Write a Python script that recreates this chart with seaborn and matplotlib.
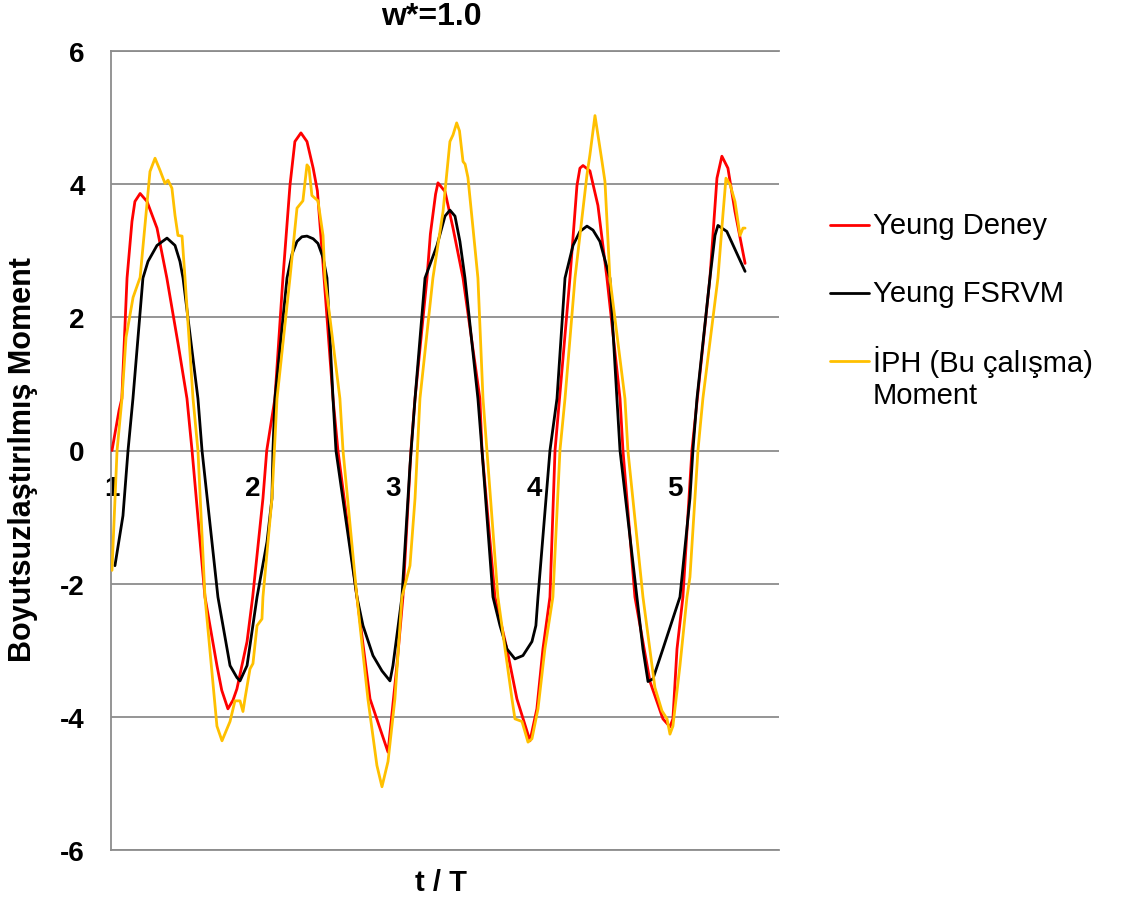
import matplotlib
matplotlib.use("Agg")
import matplotlib.pyplot as plt
from matplotlib.lines import Line2D
import seaborn as sns

# Dimensionless moment vs t/T for w* = 1.0
red_t = [1.0, 1.05, 1.07, 1.107, 1.142, 1.163, 1.20, 1.249, 1.32, 1.39, 1.47, 1.533,
         1.569, 1.661, 1.746, 1.78, 1.824, 1.86, 1.888, 1.96, 2.0, 2.073, 2.10, 2.158,
         2.215, 2.265, 2.30, 2.343, 2.386, 2.43, 2.46, 2.50, 2.571, 2.606, 2.741,
         2.834, 2.962, 3.025, 3.068, 3.125, 3.154, 3.239, 3.263, 3.30, 3.317, 3.367,
         3.424, 3.495, 3.615, 3.63, 3.722, 3.807, 3.878, 3.971, 4.02, 4.063, 4.113,
         4.149, 4.255, 4.305, 4.326, 4.348, 4.397, 4.454, 4.518, 4.611, 4.632, 4.717,
         4.824, 4.916, 4.966, 4.987, 5.016, 5.058, 5.122, 5.25, 5.30, 5.335, 5.378,
         5.428, 5.5]
red_m = [0.0, 0.6, 0.78, 2.59, 3.44, 3.74, 3.86, 3.74, 3.34, 2.59, 1.6, 0.78,
         0.0, -2.2, -3.23, -3.6, -3.88, -3.75, -3.58, -2.87, -2.2, -0.72, 0.0, 0.78,
         2.59, 3.98, 4.64, 4.77, 4.64, 4.24, 3.9, 2.8, 0.78, 0.0, -2.2,
         -3.73, -4.53, -3.23, -2.2, 0.0, 0.78, 2.59, 3.25, 3.85, 4.02, 3.89,
         3.34, 2.59, 0.78, 0.0, -2.2, -2.98, -3.73, -4.36, -3.88, -2.98, -2.2,
         0.0, 2.59, 3.98, 4.24, 4.28, 4.2, 3.68, 2.59, 0.78, 0.0, -2.2,
         -3.47, -4.03, -4.15, -4.03, -2.98, -2.2, 0.0, 2.59, 4.09, 4.42, 4.24,
         3.59, 2.81]

black_t = [1.021, 1.078, 1.114, 1.149, 1.22, 1.256, 1.32, 1.391, 1.448, 1.483, 1.505,
           1.611, 1.64, 1.753, 1.839, 1.888, 1.91, 1.96, 2.031, 2.102, 2.137, 2.144,
           2.158, 2.244, 2.28, 2.315, 2.35, 2.386, 2.43, 2.464, 2.50, 2.528, 2.571,
           2.592, 2.741, 2.784, 2.855, 2.919, 2.976, 2.997, 3.061, 3.118, 3.154, 3.225,
           3.31, 3.367, 3.402, 3.438, 3.473, 3.509, 3.601, 3.63, 3.708, 3.758, 3.807,
           3.864, 3.921, 3.985, 4.013, 4.028, 4.113, 4.163, 4.22, 4.277, 4.326, 4.376,
           4.419, 4.468, 4.539, 4.589, 4.611, 4.731, 4.774, 4.81, 4.845, 4.916, 5.037,
           5.108, 5.129, 5.158, 5.25, 5.286, 5.307, 5.37, 5.5]
black_m = [-1.73, -0.98, 0.0, 0.78, 2.59, 2.84, 3.08, 3.19, 3.08, 2.84, 2.59,
           0.78, 0.0, -2.2, -3.23, -3.41, -3.46, -3.23, -2.2, -1.37, -0.72, 0.0,
           0.78, 2.59, 2.95, 3.14, 3.21, 3.22, 3.18, 3.11, 2.9, 2.59, 0.78,
           0.0, -2.2, -2.63, -3.08, -3.31, -3.46, -3.23, -2.2, -0.23, 0.78, 2.59,
           3.08, 3.52, 3.61, 3.52, 3.14, 2.59, 0.78, 0.0, -2.2, -2.63, -2.98,
           -3.13, -3.08, -2.87, -2.63, -2.2, 0.0, 0.78, 2.59, 3.08, 3.29, 3.37,
           3.31, 3.14, 2.59, 0.78, 0.0, -2.2, -2.98, -3.47, -3.43, -2.98, -2.2,
           -0.72, 0.0, 0.78, 2.59, 3.23, 3.38, 3.29, 2.69]

yellow_t = [1.0, 1.036, 1.071, 1.10, 1.15, 1.20, 1.27, 1.306, 1.341, 1.377, 1.398,
            1.426, 1.448, 1.469, 1.498, 1.519, 1.576, 1.611, 1.661, 1.746, 1.782,
            1.839, 1.874, 1.91, 1.931, 1.945, 1.981, 2.002, 2.031, 2.066, 2.073,
            2.137, 2.173, 2.265, 2.315, 2.357, 2.386, 2.40, 2.421, 2.464, 2.50,
            2.514, 2.62, 2.642, 2.741, 2.819, 2.883, 2.919, 2.962, 3.011, 3.061,
            3.118, 3.154, 3.189, 3.281, 3.353, 3.402, 3.424, 3.45, 3.47, 3.495,
            3.51, 3.53, 3.566, 3.601, 3.637, 3.665, 3.743, 3.843, 3.864, 3.914,
            3.935, 3.957, 3.985, 4.028, 4.077, 4.134, 4.184, 4.22, 4.291, 4.376,
            4.397, 4.433, 4.454, 4.483, 4.504, 4.539, 4.646, 4.667, 4.774, 4.859,
            4.909, 4.945, 4.966, 4.987, 5.037, 5.087, 5.108, 5.165, 5.20, 5.307,
            5.342, 5.364, 5.394, 5.428, 5.464, 5.485, 5.5]
yellow_m = [-1.8, 0.0, 0.78, 1.7, 2.3, 2.6, 4.19, 4.39, 4.21, 4.01, 4.06,
            3.94, 3.53, 3.23, 3.22, 2.59, 0.78, 0.0, -2.2, -4.14, -4.36,
            -4.07, -3.76, -3.76, -3.92, -3.73, -3.28, -3.2, -2.63, -2.53, -2.2,
            -0.72, 0.78, 2.59, 3.64, 3.75, 4.29, 4.25, 3.83, 3.75, 3.23,
            2.59, 0.78, 0.0, -2.2, -3.73, -4.73, -5.05, -4.67, -3.73, -2.2,
            -1.73, -0.72, 0.78, 2.59, 3.59, 4.64, 4.74, 4.92, 4.8, 4.34,
            4.3, 4.1, 3.34, 2.59, 0.78, 0.0, -2.2, -3.73, -4.03, -4.07,
            -4.22, -4.38, -4.33, -3.88, -2.98, -2.2, 0.0, 0.78, 2.59, 4.14,
            4.44, 5.03, 4.74, 4.34, 4.04, 2.59, 0.78, 0.0, -2.2, -3.56,
            -3.91, -4.03, -4.26, -4.14, -3.23, -2.2, -1.9, 0.0, 0.78, 2.59,
            3.53, 4.09, 3.99, 3.74, 3.23, 3.34, 3.34]

series_names = ["Yeung Deney", "Yeung FSRVM", "İPH (Bu çalışma)\nMoment"]
series_colors = ["#FF0000", "#000000", "#FFC000"]
period_labels = ["1", "2", "3", "4", "5"]
y_ticks = [-6, -4, -2, 0, 2, 4, 6]

sns.set_theme(style="white")
plt.rcParams["font.family"] = ["Liberation Sans", "DejaVu Sans"]
plt.rcParams["text.color"] = "black"
plt.rcParams["ytick.color"] = "black"
plt.rcParams["xtick.color"] = "black"
plt.rcParams["axes.labelcolor"] = "black"

W, H = 1125, 904
fig = plt.figure(figsize=(W / 100, H / 100), dpi=100)
ax = fig.add_axes([111 / W, 1 - 851 / H, (779 - 111) / W, (851 - 52) / H])

grid_col = "#8C8C8C"
for t, m, c in zip([red_t, black_t, yellow_t], [red_m, black_m, yellow_m], series_colors):
    sns.lineplot(x=t, y=m, color=c, linewidth=2.0, sort=False, legend=False, ax=ax, zorder=3)

ax.set_xlim(0.993, 5.741)
ax.set_ylim(-6, 6)
ax.set_yticks(y_ticks)
ax.set_yticklabels([str(v) for v in y_ticks], fontsize=20, fontweight="bold", color="black")
ax.tick_params(axis="y", length=0, pad=19, colors="black")
ax.set_xticks([])
ax.set_xlabel("")
ax.set_ylabel("")
ax.yaxis.grid(True, color=grid_col, linewidth=1.3)
ax.set_axisbelow(True)
for side in ["top", "bottom", "left"]:
    ax.spines[side].set_visible(True)
    ax.spines[side].set_color(grid_col)
    ax.spines[side].set_linewidth(1.3)
ax.spines["right"].set_visible(False)

# period numbers along the zero line
for k, lab in enumerate(period_labels, start=1):
    ax.text(k, -0.57, lab, ha="center", va="center", fontsize=20, fontweight="bold",
            color="black", zorder=2)

fig.text(431 / W, 1 - 17 / H, "w*=1.0", ha="center", va="center", fontsize=23,
         fontweight="bold", color="black")
fig.text(441 / W, 1 - 883 / H, "t / T", ha="center", va="center", fontsize=21,
         fontweight="bold", color="black")
fig.text(23 / W, 1 - 460 / H, "Boyutsuzlaştırılmış Moment", ha="center", va="center",
         rotation=90, fontsize=22, fontweight="bold", color="black")

# legend entries
leg_rows = [226, 294, 362]
for name, col, yr in zip(series_names, series_colors, leg_rows):
    fig.add_artist(Line2D([830 / W, 869 / W], [1 - yr / H, 1 - yr / H], color=col,
                          linewidth=2.0, transform=fig.transFigure))
    for i, ln in enumerate(name.split("\n")):
        fig.text(873 / W, 1 - (yr + 34 * i) / H, ln, ha="left", va="center",
                 fontsize=21, color="black")

fig.savefig("out.png", dpi=100, facecolor="white")
